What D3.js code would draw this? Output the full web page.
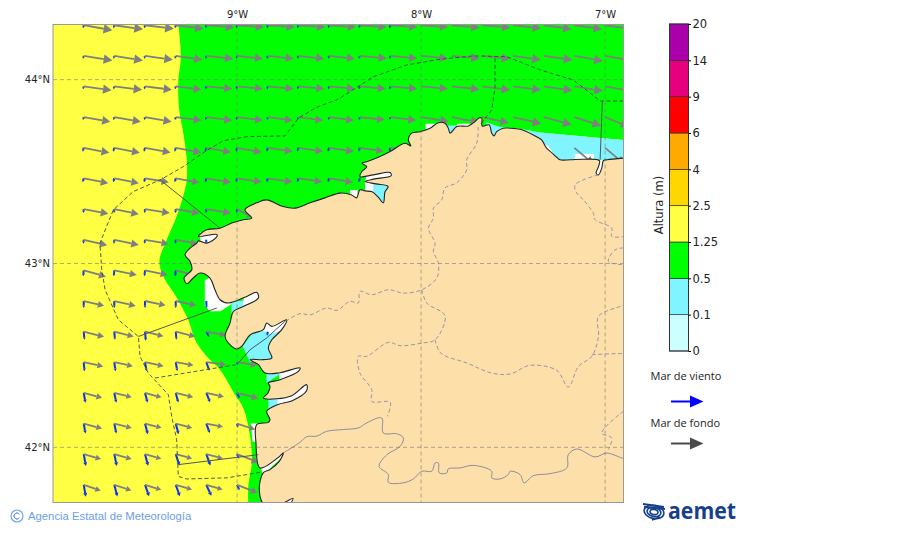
<!DOCTYPE html>
<html>
<head>
<meta charset="utf-8">
<script src="https://cdn.jsdelivr.net/npm/d3@7"></script>
<style>
  html, body { margin: 0; padding: 0; background: #fff; }
  svg { display: block; }
  text { font-family: "DejaVu Sans", sans-serif; fill: #222; }
</style>
</head>
<body>
<div id="chart"></div>
<script>
// colour bar
const levelTicks = ["0", "0.1", "0.5", "1.25", "2.5", "4", "6", "9", "14", "20"];
const levelColors = ["#ccffff", "#80f4ff", "#00ff00", "#ffff44", "#ffd700", "#ffaa00", "#ff0000", "#e6007e", "#aa00aa"];

// map ticks
const lonTicks = [-9, -8, -7];
const latTicks = [44, 43, 42];

// wave grid
const gridLons = [-9.833, -9.667, -9.5, -9.333, -9.167, -9, -8.833, -8.667, -8.5, -8.333, -8.167, -8, -7.833, -7.667, -7.5, -7.333, -7.167, -7];
const gridLats = [44.296, 44.129, 43.963, 43.796, 43.629, 43.463, 43.296, 43.129, 42.963, 42.796, 42.629, 42.463, 42.296, 42.129, 41.963, 41.796];

// mar de fondo, direction it goes to (deg) and arrow size, rows follow gridLats
const swellDir = [
  [100, 98, 97, 97, 94, 94, 94, 94, 94, 94, 94, 94, 95, 95, 96, 98, 98, 98],
  [99, 99, 98, 98, 96, 96, 96, 96, 96, 95, 95, 95, 95, 96, 98, 98, 100, 100],
  [98, 97, 97, 97, 95, 95, 95, 95, 95, 95, 95, 95, 96, 97, 97, 98, 99, 100],
  [100, 100, 100, 97, 97, 97, 97, 97, 97, 96, 97, 99, 101, 102, 103, 105, 108, 112],
  [101, 101, 100, 100, 100, 100, 98, 98, 98, 98, 98, null, null, null, null, null, 130, 130],
  [101, 101, 99, 100, 99, 98, 98, 98, 99],
  [101, 102, 99, 100, 99, 118],
  [103, 102, 100, 100],
  [106, 102, 102, 105],
  [103, 103, 102, 102],
  [104, 104, 104, 104, 100],
  [102, 102, 102, 100, 97, 99],
  [105, 104, 105, 104, 102, 104],
  [105, 104, 104, 105, 101, 108],
  [106, 106, 106, 105, 105, 111],
  [109, 108, 107, 106, 106, 111]
];
const swellSize = [
  [2.9, 2.9, 2.9, 2.8, 2.8, 2.7, 2.7, 2.7, 2.7, 2.7, 2.7, 2.7, 2.8, 2.8, 2.8, 2.8, 2.8, 2.8],
  [2.9, 2.9, 2.8, 2.7, 2.7, 2.6, 2.6, 2.6, 2.6, 2.7, 2.7, 2.7, 2.8, 2.8, 2.8, 2.9, 2.9, 2.9],
  [2.8, 2.8, 2.7, 2.6, 2.6, 2.6, 2.6, 2.6, 2.6, 2.6, 2.7, 2.7, 2.8, 2.8, 2.8, 2.9, 2.9, 2.9],
  [2.7, 2.7, 2.7, 2.6, 2.6, 2.6, 2.5, 2.5, 2.5, 2.5, 2.6, 2.8, 2.8, 2.7, 2.9, 2.9, 2.8, 2.5],
  [2.6, 2.6, 2.6, 2.6, 2.5, 2.5, 2.5, 2.5, 2.5, 2.4, 2.4, null, null, null, null, null, 2.5, 2.5],
  [2.5, 2.5, 2.4, 2.4, 2.5, 2.5, 2.5, 2.4, 2.4],
  [2.5, 2.5, 2.5, 2.4, 2.5, 1.7],
  [2.4, 2.5, 2.4, 2.2],
  [2.3, 2.3, 2.3, 2.0],
  [2.1, 2.2, 2.1, 2.1],
  [2.1, 2.0, 1.9, 2.0, 2.0],
  [2.0, 1.9, 1.9, 1.8, 2.0, 2.0],
  [1.9, 1.8, 1.7, 1.8, 1.8, 2.2],
  [1.9, 1.8, 1.7, 1.7, 1.7, 1.9],
  [1.8, 1.8, 1.7, 1.7, 1.7, 2.3],
  [1.8, 1.8, 1.7, 1.7, 1.7, 2.2]
];

// mar de viento
const windDir = [
  [195, 195, 195, 195, 195, 195, 195, 195, 195, 195, 195],
  [195, 195, 195, 195, 195, 195, 195, 195, 195, 195, 195],
  [195, 195, 195, 195, 195, 195, 195, 195, 195, 195, 195],
  [195, 195, 195, 195, 195, 195, 195, 195, 195, 195, 195],
  [195, 195, 195, 195, 195, 195, 195, 195, 195, 195, 195],
  [195, 195, 195, 195, 195, 195, 195, 195, 195, 195],
  [185, 185, 185, 185, 185, 185],
  [185, 185, 185, 185, 185],
  [185, 185, 185, 185],
  [180, 180, 180, 180, 178],
  [175, 175, 175, 175, 150, null, 190],
  [175, 172, 170, 170, 160, 165],
  [170, 168, 165, 165, 158, 155],
  [170, 168, 165, 165, 160, 165],
  [170, 168, 165, 162, 160, 155],
  [170, 165, 160, 160, 155, 155]
];
const windSize = [
  [0.3, 0.3, 0.3, 0.3, 0.3, 0.3, 0.3, 0.3, 0.3, 0.3, 0.3],
  [0.3, 0.3, 0.3, 0.3, 0.3, 0.3, 0.3, 0.3, 0.3, 0.3, 0.3],
  [0.3, 0.3, 0.3, 0.3, 0.3, 0.3, 0.3, 0.3, 0.3, 0.3, 0.3],
  [0.3, 0.3, 0.3, 0.3, 0.3, 0.3, 0.3, 0.3, 0.3, 0.3, 0.3],
  [0.4, 0.4, 0.4, 0.4, 0.4, 0.4, 0.4, 0.4, 0.4, 0.4, 0.4],
  [0.4, 0.4, 0.4, 0.4, 0.4, 0.4, 0.4, 0.4, 0.4, 0.4],
  [0.4, 0.4, 0.4, 0.4, 0.4, 0.4],
  [0.4, 0.4, 0.4, 0.4, 0.4],
  [0.6, 0.6, 0.6, 0.6],
  [0.7, 0.7, 0.7, 0.7, 0.7],
  [0.8, 0.8, 0.9, 0.8, 0.6, null, 0.4],
  [0.9, 0.9, 0.9, 0.9, 0.9, 0.3],
  [1.0, 1.0, 1.0, 1.0, 1.0, 0.6],
  [1.0, 1.0, 1.1, 1.1, 1.0, 0.4],
  [1.2, 1.2, 1.2, 1.2, 1.2, 0.5],
  [1.2, 1.2, 1.2, 1.2, 1.2, 0.6]
];

// wave height areas, lon/lat
const greenArea = [[-9.319,44.3],[-9.31,44.216],[-9.306,44.107],[-9.319,43.998],[-9.314,43.835],[-9.292,43.709],[-9.273,43.564],[-9.273,43.455],[-9.283,43.401],[-9.328,43.255],[-9.382,43.129],[-9.422,43.011],[-9.391,42.911],[-9.337,42.83],[-9.265,42.694],[-9.228,42.585],[-9.165,42.495],[-9.092,42.422],[-9.011,42.286],[-8.966,42.214],[-8.929,42.06],[-8.92,41.915],[-8.939,41.788],[-8.939,41.7],[-8.658,41.7],[-7.48,43.736],[-7.353,43.712],[-7.172,43.696],[-7.027,43.682],[-6.9,43.672],[-6.9,44.3]];
const cyanAreas = [
  [[-7.647,43.77],[-7.571,43.743],[-7.48,43.736],[-7.353,43.712],[-7.172,43.696],[-7.027,43.682],[-6.9,43.672],[-6.9,43.55],[-7.6,43.55]],
  [[-7.86,43.75],[-7.806,43.75],[-7.806,43.69],[-7.86,43.69]],
  [[-8.304,43.46],[-8.16,43.46],[-8.16,43.31],[-8.304,43.31]],
  [[-9.03,42.79],[-8.95,42.8],[-8.94,42.76],[-9.03,42.73]],
  [[-8.97,42.55],[-8.92,42.615],[-8.85,42.64],[-8.755,42.665],[-8.81,42.56],[-8.81,42.465],[-8.93,42.465]],
  [[-8.84,42.41],[-8.75,42.41],[-8.84,42.35]],
  [[-8.83,42.27],[-8.76,42.27],[-8.78,42.2],[-8.83,42.19]],
  [[-7.64,43.76],[-7.56,43.74],[-7.56,43.68],[-7.64,43.68]]
];
const whiteAreas = [
  [[-8.3,43.49],[-8.16,43.5],[-8.16,43.46],[-8.3,43.45]],
  [[-8.304,43.45],[-8.26,43.44],[-8.26,43.385],[-8.304,43.39]],
  [[-8.385,43.4],[-8.345,43.4],[-8.345,43.34],[-8.385,43.34]],
  [[-7.975,43.76],[-7.92,43.76],[-7.92,43.72],[-7.975,43.72]],
  [[-7.805,43.76],[-7.735,43.76],[-7.735,43.72],[-7.805,43.72]],
  [[-7.353,43.66],[-7.31,43.64],[-7.28,43.6],[-7.33,43.6]],
  [[-7.165,43.595],[-7.06,43.595],[-7.06,43.55],[-7.165,43.55]],
  [[-9.2,43.17],[-9.1,43.17],[-9.1,43.1],[-9.2,43.1]],
  [[-9.175,42.91],[-9.175,42.77],[-9.147,42.74],[-9.09,42.74],[-9.03,42.78],[-9.09,42.95]],
  [[-8.96,42.83],[-8.88,42.85],[-8.88,42.8],[-8.97,42.77]],
  [[-8.86,42.635],[-8.83,42.69],[-8.81,42.665],[-8.71,42.7],[-8.745,42.64],[-8.82,42.615]],
  [[-8.77,42.41],[-8.64,42.45],[-8.64,42.4],[-8.77,42.36]],
  [[-8.78,42.28],[-8.6,42.35],[-8.6,42.29],[-8.78,42.22]],
  [[-8.925,42.13],[-8.88,42.13],[-8.88,42.03],[-8.915,42.03]],
  [[-8.87,41.89],[-8.74,41.98],[-8.74,41.96],[-8.86,41.85]],
  [[-7.05,43.56],[-7,43.56],[-7,43.47],[-7.06,43.47]],
  [[-8.8,41.69],[-8.65,41.74],[-8.65,41.69]]
];

// coast of Galicia, from the east edge round to the south edge
const landCoast = [[-6.899,43.573],[-6.989,43.564],[-7.009,43.56],[-7.018,43.52],[-7.036,43.482],[-7.049,43.493],[-7.036,43.527],[-7.031,43.56],[-7.118,43.567],[-7.19,43.564],[-7.245,43.564],[-7.263,43.578],[-7.29,43.603],[-7.318,43.627],[-7.345,43.672],[-7.39,43.699],[-7.462,43.73],[-7.516,43.736],[-7.553,43.736],[-7.589,43.717],[-7.603,43.694],[-7.616,43.709],[-7.63,43.754],[-7.668,43.748],[-7.67,43.79],[-7.683,43.793],[-7.707,43.772],[-7.743,43.748],[-7.806,43.745],[-7.842,43.709],[-7.852,43.736],[-7.87,43.763],[-7.906,43.766],[-7.951,43.736],[-8.005,43.717],[-8.051,43.709],[-8.069,43.672],[-8.056,43.64],[-8.087,43.654],[-8.168,43.609],[-8.223,43.582],[-8.295,43.554],[-8.322,43.546],[-8.295,43.527],[-8.322,43.5],[-8.332,43.473],[-8.259,43.482],[-8.168,43.495],[-8.163,43.477],[-8.259,43.459],[-8.304,43.446],[-8.245,43.433],[-8.179,43.419],[-8.196,43.39],[-8.205,43.33],[-8.234,43.362],[-8.266,43.39],[-8.304,43.395],[-8.332,43.401],[-8.35,43.357],[-8.377,43.373],[-8.44,43.383],[-8.522,43.357],[-8.603,43.33],[-8.685,43.301],[-8.75,43.31],[-8.839,43.346],[-8.893,43.33],[-8.957,43.292],[-8.92,43.247],[-8.966,43.238],[-9.029,43.22],[-9.092,43.192],[-9.165,43.183],[-9.21,43.147],[-9.11,43.158],[-9.11,43.145],[-9.165,43.111],[-9.21,43.123],[-9.219,43.111],[-9.255,43.084],[-9.283,43.047],[-9.255,43.011],[-9.246,42.966],[-9.273,42.939],[-9.288,42.921],[-9.273,42.89],[-9.238,42.921],[-9.201,42.948],[-9.147,42.921],[-9.12,42.857],[-9.092,42.803],[-9.047,42.785],[-8.947,42.821],[-8.893,42.843],[-8.884,42.812],[-8.966,42.766],[-9.02,42.739],[-9.038,42.676],[-9.065,42.603],[-9.029,42.549],[-9.002,42.535],[-8.975,42.549],[-8.929,42.612],[-8.857,42.64],[-8.839,42.676],[-8.811,42.658],[-8.73,42.694],[-8.757,42.64],[-8.811,42.585],[-8.83,42.54],[-8.811,42.486],[-8.857,42.477],[-8.929,42.477],[-8.884,42.45],[-8.848,42.404],[-8.766,42.406],[-8.658,42.432],[-8.667,42.413],[-8.766,42.368],[-8.83,42.35],[-8.821,42.332],[-8.832,42.296],[-8.857,42.268],[-8.784,42.264],[-8.703,42.281],[-8.622,42.341],[-8.622,42.308],[-8.7,42.254],[-8.777,42.233],[-8.839,42.196],[-8.821,42.151],[-8.83,42.136],[-8.893,42.124],[-8.897,42.024],[-8.875,41.888],[-8.777,41.944],[-8.748,41.97],[-8.772,41.922],[-8.821,41.879],[-8.857,41.862],[-8.879,41.77],[-8.853,41.69],[-8.766,41.69],[-8.696,41.722],[-8.712,41.69]];
const landCorners = [[-6.8,41.69],[-6.8,43.573]];

// Spain - Portugal
const borderLine = [[-8.748,41.97],[-8.658,42.027],[-8.621,42.058],[-8.567,42.061],[-8.513,42.087],[-8.422,42.097],[-8.34,42.106],[-8.295,42.133],[-8.214,42.16],[-8.205,42.078],[-8.132,42.074],[-8.096,42.051],[-8.114,42.005],[-8.186,41.96],[-8.228,41.897],[-8.178,41.852],[-8.178,41.81],[-8.096,41.807],[-8.042,41.828],[-7.996,41.87],[-7.942,41.87],[-7.924,41.915],[-7.906,41.915],[-7.901,41.861],[-7.86,41.861],[-7.852,41.883],[-7.788,41.888],[-7.716,41.902],[-7.616,41.87],[-7.616,41.834],[-7.571,41.828],[-7.526,41.852],[-7.516,41.87],[-7.462,41.852],[-7.44,41.807],[-7.39,41.846],[-7.299,41.857],[-7.208,41.888],[-7.2,41.96],[-7.154,41.991],[-7.054,41.948],[-6.991,41.969],[-6.909,41.942],[-6.9,41.941]];

// province limits
const provinceLines = [
  [[-7.69,43.743],[-7.697,43.656],[-7.752,43.564],[-7.752,43.509],[-7.806,43.439],[-7.87,43.411],[-7.888,43.346],[-7.933,43.301],[-7.933,43.247],[-7.96,43.192],[-7.924,43.111],[-7.933,43.065],[-7.906,43.002],[-7.915,42.921],[-7.996,42.857],[-8.096,42.839],[-8.178,42.857],[-8.268,42.83],[-8.332,42.848],[-8.341,42.785],[-8.386,42.794],[-8.458,42.745],[-8.513,42.758],[-8.603,42.721],[-8.658,42.727],[-8.723,42.694]],
  [[-7.996,42.857],[-7.969,42.785],[-7.87,42.716],[-7.924,42.585],[-7.996,42.567],[-8.114,42.553],[-8.178,42.571],[-8.295,42.495],[-8.341,42.495],[-8.332,42.404],[-8.268,42.314],[-8.268,42.25],[-8.168,42.245],[-8.183,42.169]],
  [[-7.924,42.585],[-7.893,42.513],[-7.752,42.459],[-7.616,42.404],[-7.516,42.399],[-7.408,42.446],[-7.263,42.419],[-7.2,42.328],[-7.145,42.44],[-7.072,42.495],[-7.036,42.603],[-7.036,42.712],[-6.909,42.77],[-6.9,42.776]],
  [[-7.072,42.504],[-6.918,42.51],[-6.9,42.508]],
  [[-7.038,43.482],[-7.163,43.428],[-7.154,43.384],[-7.118,43.346],[-7.064,43.274],[-7.054,43.238],[-6.964,43.192],[-6.964,43.147],[-6.9,43.147]],
  [[-6.9,43.085],[-6.946,43.074],[-6.982,43.011],[-6.9,42.993]],
  [[-6.9,42.197],[-7.018,42.078],[-6.964,42.051],[-6.982,41.988]]
];

// coastal forecast zones
const zoneDashed = [
  [[-6.9,43.884],[-7.027,43.884],[-7.172,43.998],[-7.353,44.053],[-7.534,44.125],[-7.717,44.129],[-7.897,44.111],[-8.078,44.08],[-8.259,44.016],[-8.413,43.917],[-8.458,43.89],[-8.567,43.85],[-8.667,43.79],[-8.739,43.694],[-8.947,43.69],[-9.074,43.668],[-9.174,43.609],[-9.292,43.527],[-9.409,43.459],[-9.564,43.391],[-9.672,43.292],[-9.745,43.111],[-9.735,42.966],[-9.717,42.857],[-9.645,42.694],[-9.536,42.603],[-9.527,42.495],[-9.482,42.404],[-9.373,42.286],[-9.355,42.168],[-9.328,42.042],[-9.319,41.842],[-9.273,41.828],[-9.056,41.834],[-8.875,41.864]],
  [[-9.446,42.377],[-9.002,42.45]],
  [[-7.598,44.116],[-7.598,43.962],[-7.616,43.835],[-7.679,43.754]]
];
const zoneSolid = [
  [[-8.993,42.459],[-8.929,42.531],[-8.839,42.595],[-8.73,42.694]],
  [[-9.319,41.906],[-8.884,41.96]],
  [[-9.536,42.603],[-9.11,42.758]],
  [[-9.418,43.455],[-9.092,43.192]],
  [[-7.015,43.884],[-7.027,43.564]]
];

const width = 900;
const height = 533;
const plot = { left: 53, right: 623.5, top: 24.5, bottom: 502.5 };

const svg = d3.select("#chart").append("svg")
  .attr("width", width)
  .attr("height", height)
  .attr("viewBox", `0 0 ${width} ${height}`);

const x = d3.scaleLinear().domain([-10, -6.9]).range([plot.left, plot.right]);
const y = d3.scaleLinear().domain([44.3, 41.7]).range([plot.top, plot.bottom]);
const sizeScale = d3.scaleLinear().domain([0, 3]).range([0, 30]);

svg.append("clipPath").attr("id", "plot-clip").append("rect")
  .attr("x", plot.left).attr("y", plot.top)
  .attr("width", plot.right - plot.left).attr("height", plot.bottom - plot.top);

const map = svg.append("g").attr("clip-path", "url(#plot-clip)");
const lineGeo = d3.line().x(d => x(d[0])).y(d => y(d[1]));
const curveGeo = d3.line().x(d => x(d[0])).y(d => y(d[1])).curve(d3.curveCatmullRom.alpha(0.5));
const areaGeo = pts => lineGeo(pts) + "Z";

// sea
map.append("rect")
  .attr("x", plot.left).attr("y", plot.top)
  .attr("width", plot.right - plot.left).attr("height", plot.bottom - plot.top)
  .attr("fill", levelColors[3]);
map.append("path").attr("d", curveGeo(greenArea.slice(0, 24)) + lineGeo(greenArea.slice(24)).replace("M", "L") + "Z")
  .attr("fill", levelColors[2]);
map.selectAll(".cyan").data(cyanAreas).enter().append("path")
  .attr("class", "cyan").attr("d", areaGeo).attr("fill", levelColors[1]);
map.selectAll(".white").data(whiteAreas).enter().append("path")
  .attr("class", "white").attr("d", areaGeo).attr("fill", "#fff");

// one arrow per grid point, head grows with the arrow
function arrowParts(lon, lat, dir, size) {
  const len = sizeScale(size);
  const a = dir * Math.PI / 180;
  const ux = Math.sin(a), uy = -Math.cos(a);
  const x0 = x(lon), y0 = y(lat);
  const hl = Math.max(2.4, len * 0.3);
  const hw = hl * 0.55;
  const bx = x0 + ux * (len - hl), by = y0 + uy * (len - hl);
  return {
    x0, y0, bx, by,
    head: `M${x0 + ux * len},${y0 + uy * len}L${bx - uy * hw},${by + ux * hw}L${bx + uy * hw},${by - ux * hw}Z`
  };
}

function drawArrows(dirs, sizes, color, thick) {
  const cells = [];
  dirs.forEach((row, r) => row.forEach((dir, c) => {
    if (dir != null && sizes[r][c] != null) {
      cells.push(arrowParts(gridLons[c], gridLats[r], dir, sizes[r][c]));
    }
  }));
  const g = map.append("g");
  g.selectAll("line").data(cells).enter().append("line")
    .attr("x1", d => d.x0).attr("y1", d => d.y0)
    .attr("x2", d => d.bx).attr("y2", d => d.by)
    .attr("stroke", color).attr("stroke-width", thick);
  g.selectAll("path").data(cells).enter().append("path")
    .attr("d", d => d.head).attr("fill", color);
}

drawArrows(windDir, windSize, "#0a32f0", 2);
drawArrows(swellDir, swellSize, "#7f7f7f", 1.8);

// land on top of the arrows
map.append("path").attr("d", curveGeo(landCoast) + lineGeo(landCorners).replace("M", "L") + "Z")
  .attr("fill", "#fddfaa").attr("stroke", "#222").attr("stroke-width", 1.1);

map.selectAll(".province").data(provinceLines).enter().append("path")
  .attr("class", "province").attr("d", curveGeo).attr("fill", "none")
  .attr("stroke", "#8c8ca8").attr("stroke-width", 0.9).attr("stroke-dasharray", "4,2.5");
map.append("path").attr("d", curveGeo(borderLine)).attr("fill", "none")
  .attr("stroke", "#8c8ca0").attr("stroke-width", 1);
map.selectAll(".zone-dash").data(zoneDashed).enter().append("path")
  .attr("class", "zone-dash").attr("d", lineGeo).attr("fill", "none")
  .attr("stroke", "#3c4a3c").attr("stroke-width", 0.9).attr("stroke-dasharray", "4,2.5");
map.selectAll(".zone-solid").data(zoneSolid).enter().append("path")
  .attr("class", "zone-solid").attr("d", lineGeo).attr("fill", "none")
  .attr("stroke", "#555").attr("stroke-width", 1);

// graticule
map.selectAll(".grid-x").data(lonTicks).enter().append("line")
  .attr("class", "grid-x")
  .attr("x1", d => x(d)).attr("x2", d => x(d))
  .attr("y1", plot.top).attr("y2", plot.bottom);
map.selectAll(".grid-y").data(latTicks).enter().append("line")
  .attr("class", "grid-y")
  .attr("y1", d => y(d)).attr("y2", d => y(d))
  .attr("x1", plot.left).attr("x2", plot.right);
map.selectAll(".grid-x,.grid-y")
  .attr("stroke", "#777").attr("stroke-opacity", 0.65)
  .attr("stroke-width", 0.9).attr("stroke-dasharray", "4,3");

svg.append("rect")
  .attr("x", plot.left).attr("y", plot.top)
  .attr("width", plot.right - plot.left).attr("height", plot.bottom - plot.top)
  .attr("fill", "none").attr("stroke", "#999").attr("stroke-width", 1);

// axes
const axisTop = d3.axisTop(x).tickValues(lonTicks).tickSize(0).tickPadding(7)
  .tickFormat(d => `${Math.abs(d)}°W`);
const axisLeft = d3.axisLeft(y).tickValues(latTicks).tickSize(0).tickPadding(3)
  .tickFormat(d => `${d}°N`);
svg.append("g").attr("transform", `translate(0,${plot.top})`).call(axisTop)
  .call(g => g.select(".domain").remove())
  .selectAll("text").attr("font-size", 10).style("font-family", '"DejaVu Sans"');
svg.append("g").attr("transform", `translate(${plot.left},0)`).call(axisLeft)
  .call(g => g.select(".domain").remove())
  .selectAll("text").attr("font-size", 10).style("font-family", '"DejaVu Sans"');

// colour bar
const barY = d3.scalePoint().domain(levelTicks).range([351, 24]);
const bar = svg.append("g");
bar.selectAll("rect").data(levelColors).enter().append("rect")
  .attr("x", 669.5).attr("width", 19)
  .attr("y", (d, i) => barY(levelTicks[i + 1]))
  .attr("height", (d, i) => barY(levelTicks[i]) - barY(levelTicks[i + 1]))
  .attr("fill", d => d)
  .attr("stroke", "#333").attr("stroke-width", 0.7);
bar.append("rect").attr("x", 669.5).attr("width", 19).attr("y", 24).attr("height", 327)
  .attr("fill", "none").attr("stroke", "#333").attr("stroke-width", 1);
const barAxis = d3.axisRight(barY).tickSize(2.5).tickPadding(1.5);
bar.append("g").attr("transform", "translate(688.5,0)").call(barAxis)
  .call(g => g.select(".domain").remove())
  .selectAll("text").attr("font-size", 11.5).style("font-family", '"DejaVu Sans"').style("fill", "#222");
bar.append("text")
  .attr("transform", "translate(663,205) rotate(-90)")
  .attr("text-anchor", "middle").attr("font-size", 11.5)
  .text("Altura (m)");

// legend
function legendArrow(yPos, color) {
  svg.append("line").attr("x1", 671).attr("x2", 692).attr("y1", yPos).attr("y2", yPos)
    .attr("stroke", color).attr("stroke-width", 2);
  svg.append("path").attr("d", `M703.5,${yPos}L690,${yPos - 6}L690,${yPos + 6}Z`).attr("fill", color);
}
svg.append("text").attr("x", 650.5).attr("y", 380).attr("font-size", 11)
  .style("font-family", '"Open Sans"').text("Mar de viento");
legendArrow(401.5, "#0000ff");
svg.append("text").attr("x", 650.5).attr("y", 427).attr("font-size", 11)
  .style("font-family", '"Open Sans"').text("Mar de fondo");
legendArrow(443.5, "#4a4a4a");

// footer, left
const footBlue = "#6d9eea";
svg.append("circle").attr("cx", 17).attr("cy", 516).attr("r", 6)
  .attr("fill", "none").attr("stroke", footBlue).attr("stroke-width", 1.1);
svg.append("path").attr("d", d3.arc()({ innerRadius: 3, outerRadius: 3, startAngle: Math.PI / 2 + 0.7, endAngle: Math.PI * 2.5 - 0.7 }))
  .attr("transform", "translate(17,516)")
  .attr("fill", "none").attr("stroke", footBlue).attr("stroke-width", 1);
svg.append("text").attr("x", 28).attr("y", 520).attr("font-size", 11.3)
  .style("font-family", '"Liberation Sans"').style("fill", footBlue)
  .text("Agencia Estatal de Meteorología");

// aemet mark
const navy = "#17408b";
const logo = svg.append("g").attr("fill", "none").attr("stroke", navy);
[[654, 512, 10, 6.5], [654, 512, 7, 4.5], [654, 512, 4, 2.5]].forEach(e => {
  logo.append("ellipse").attr("cx", e[0]).attr("cy", e[1]).attr("rx", e[2]).attr("ry", e[3])
    .attr("transform", `rotate(12 ${e[0]} ${e[1]})`).attr("stroke-width", 1.6);
});
logo.append("path").attr("d", "M643,504L664,507M644,507L665,509").attr("stroke-width", 2);
logo.append("path").attr("d", "M652,520L660,517M644,522h.1M649,523h.1").attr("stroke-width", 1.6);
svg.append("text").attr("x", 668).attr("y", 519)
  .attr("font-size", 23).attr("font-weight", 700)
  .attr("textLength", 68).attr("lengthAdjust", "spacingAndGlyphs")
  .style("font-family", '"Open Sans"').style("fill", navy)
  .text("aemet");
</script>
</body>
</html>
